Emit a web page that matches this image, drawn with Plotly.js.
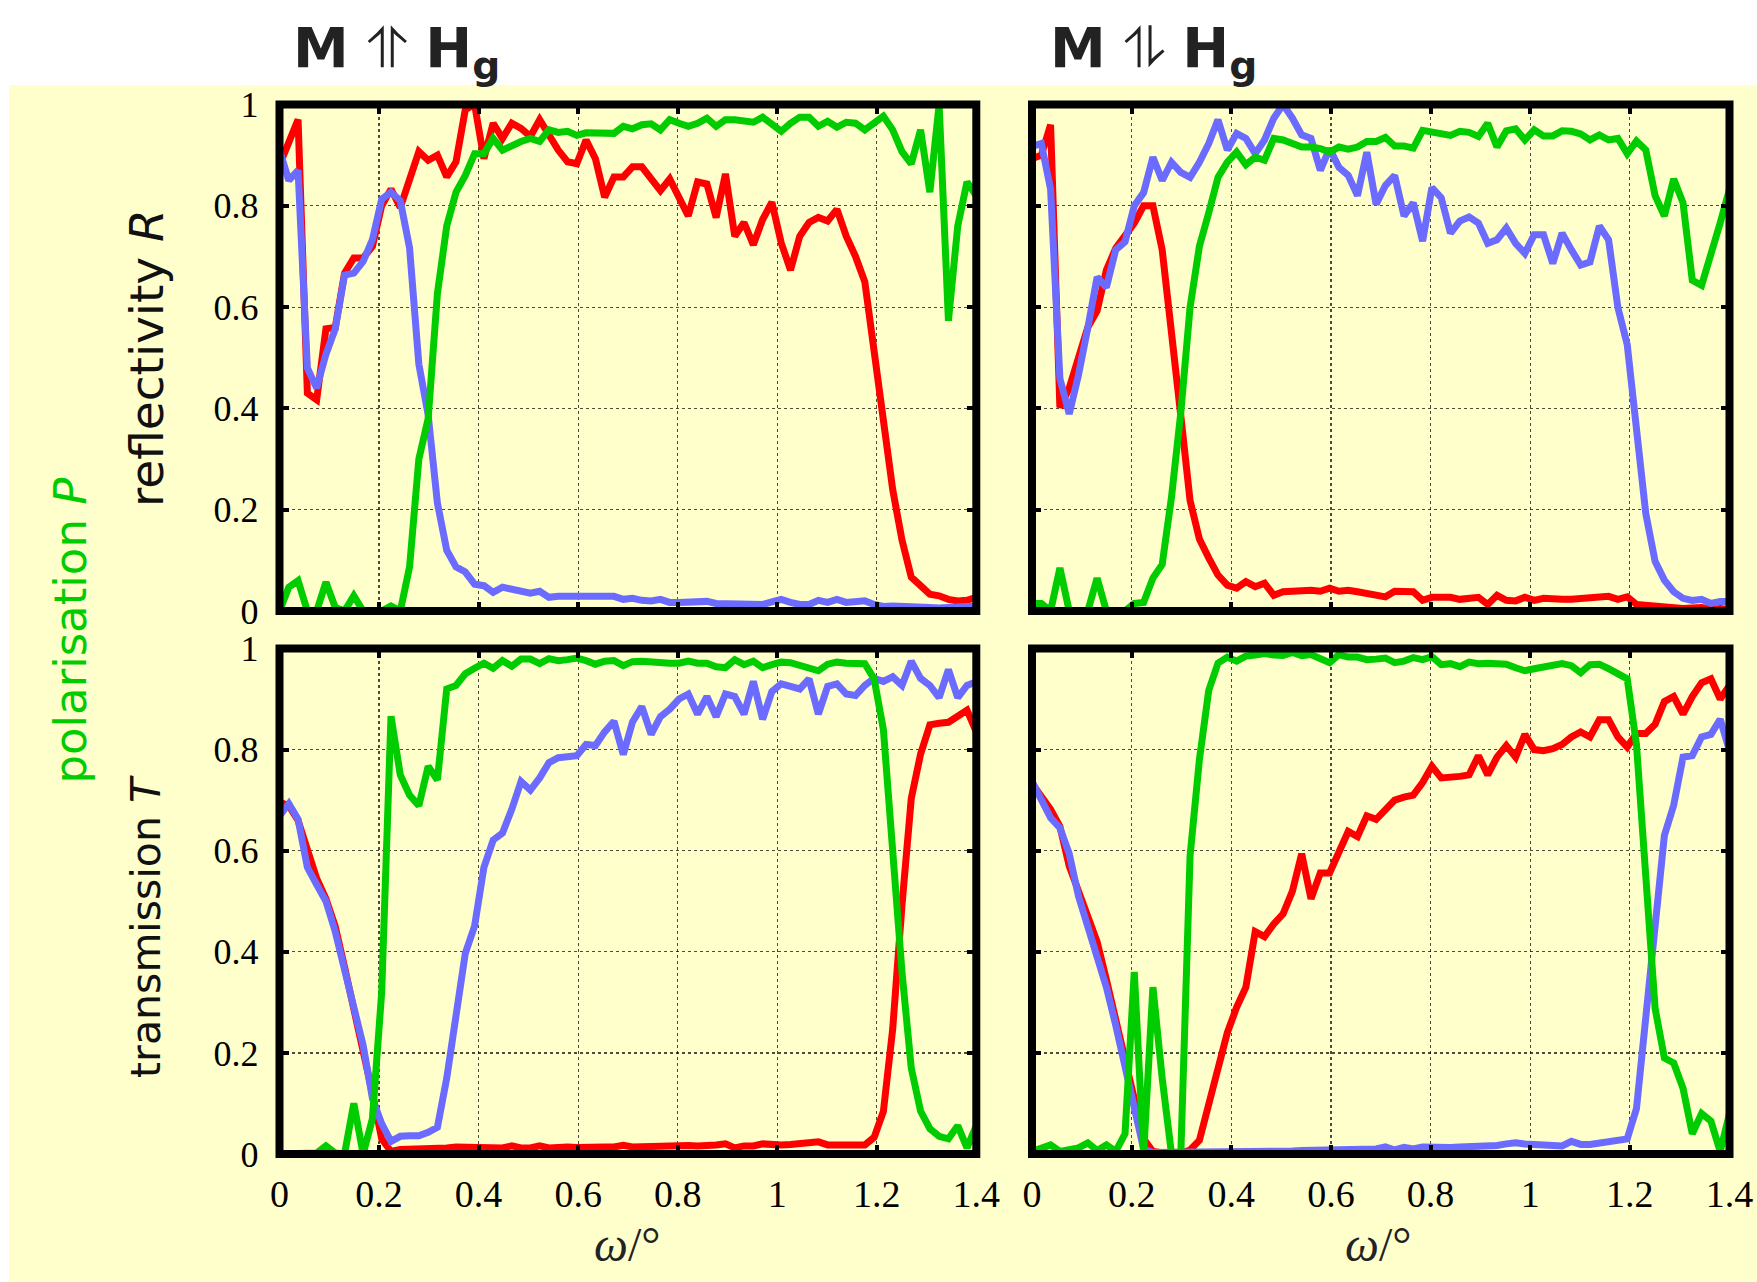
<!DOCTYPE html>
<html><head><meta charset="utf-8">
<script src="https://cdn.plot.ly/plotly-3.0.1.min.js"></script>
<style>html,body{margin:0;padding:0;background:#fff}</style>
</head><body><div id="chart" style="width:1757px;height:1282px"></div>
<script>
// incidence angle omega (degrees)
const omega = [0,0.0187,0.0373,0.056,0.0747,0.0933,0.112,0.1307,0.1493,0.168,0.1867,0.2053,0.224,0.2427,0.2613,0.28,0.2987,0.3173,0.336,0.3547,0.3733,0.392,0.4107,0.4293,0.448,0.4667,0.4853,0.504,0.5227,0.5413,0.56,0.5787,0.5973,0.616,0.6347,0.6533,0.672,0.6907,0.7093,0.728,0.7467,0.7653,0.784,0.8027,0.8213,0.84,0.8587,0.8773,0.896,0.9147,0.9333,0.952,0.9707,0.9893,1.008,1.0267,1.0453,1.064,1.0827,1.1013,1.12,1.1387,1.1573,1.176,1.1947,1.2133,1.232,1.2507,1.2693,1.288,1.3067,1.3253,1.344,1.3627,1.3813,1.4];

// M parallel Hg : reflectivity
const reflParRed = [0.88,0.93,0.97,0.43,0.417,0.557,0.56,0.667,0.697,0.697,0.72,0.80,0.833,0.797,0.857,0.907,0.89,0.90,0.857,0.887,0.99,1.0,0.893,0.963,0.933,0.963,0.953,0.937,0.97,0.94,0.91,0.887,0.883,0.93,0.893,0.817,0.857,0.857,0.877,0.877,0.853,0.83,0.853,0.817,0.78,0.847,0.843,0.777,0.863,0.74,0.767,0.723,0.773,0.807,0.727,0.673,0.74,0.767,0.777,0.77,0.793,0.74,0.70,0.65,0.507,0.373,0.24,0.14,0.067,0.05,0.033,0.03,0.023,0.02,0.021,0.027];
const reflParBlue = [0.91,0.85,0.87,0.48,0.44,0.507,0.557,0.663,0.667,0.69,0.733,0.813,0.827,0.81,0.717,0.487,0.387,0.213,0.12,0.087,0.077,0.053,0.05,0.037,0.047,0.043,0.04,0.035,0.039,0.027,0.029,0.029,0.031,0.031,0.031,0.03,0.029,0.023,0.025,0.021,0.02,0.023,0.017,0.017,0.018,0.016,0.019,0.015,0.015,0.015,0.016,0.016,0.013,0.018,0.023,0.017,0.013,0.013,0.021,0.017,0.023,0.017,0.017,0.02,0.013,0.009,0.01,0.01,0.007,0.007,0.007,0.006,0.008,0.009,0.009,0.009];
const reflParPol = [0,0.047,0.06,0,0,0.057,0.007,0,0.03,0,0,0,0.01,0,0.087,0.30,0.38,0.627,0.76,0.827,0.86,0.903,0.903,0.933,0.91,0.92,0.927,0.933,0.927,0.95,0.945,0.947,0.939,0.944,0.943,0.941,0.943,0.957,0.952,0.96,0.962,0.95,0.97,0.963,0.957,0.963,0.973,0.957,0.97,0.97,0.967,0.965,0.975,0.963,0.947,0.963,0.975,0.975,0.957,0.967,0.955,0.965,0.963,0.95,0.965,0.977,0.95,0.907,0.883,0.95,0.827,1.0,0.573,0.76,0.847,0.82];

// M antiparallel Hg : reflectivity
const reflAntiRed = [0.893,0.90,0.96,0.402,0.44,0.506,0.56,0.593,0.673,0.716,0.74,0.766,0.80,0.80,0.713,0.56,0.385,0.218,0.142,0.105,0.071,0.051,0.045,0.058,0.048,0.055,0.031,0.038,0.039,0.041,0.041,0.039,0.045,0.039,0.041,0.038,0.035,0.031,0.028,0.039,0.037,0.038,0.021,0.027,0.027,0.027,0.023,0.025,0.027,0.013,0.031,0.021,0.02,0.027,0.021,0.025,0.023,0.023,0.023,0.025,0.028,0.027,0.029,0.023,0.028,0.013,0.011,0.011,0.009,0.005,0.005,0.006,0.007,0.003,0.005,0.003];
const reflAntiBlue = [0.917,0.923,0.833,0.459,0.389,0.466,0.559,0.659,0.639,0.713,0.729,0.80,0.826,0.896,0.85,0.886,0.866,0.856,0.886,0.923,0.97,0.91,0.943,0.933,0.903,0.93,0.973,1.0,0.973,0.94,0.933,0.87,0.913,0.876,0.86,0.82,0.906,0.803,0.84,0.86,0.78,0.806,0.73,0.836,0.816,0.746,0.77,0.778,0.766,0.726,0.733,0.756,0.726,0.706,0.743,0.743,0.686,0.746,0.713,0.683,0.689,0.76,0.733,0.599,0.526,0.359,0.192,0.098,0.061,0.038,0.025,0.021,0.023,0.015,0.019,0.019];
const reflAntiPol = [0.015,0.015,0,0.085,0,0,0,0.065,0,0,0,0.015,0.017,0.065,0.092,0.225,0.392,0.60,0.72,0.786,0.856,0.886,0.906,0.881,0.896,0.89,0.933,0.93,0.923,0.916,0.916,0.913,0.906,0.916,0.912,0.916,0.927,0.927,0.935,0.918,0.918,0.914,0.949,0.945,0.943,0.939,0.947,0.945,0.937,0.963,0.916,0.948,0.952,0.93,0.95,0.938,0.938,0.948,0.947,0.942,0.93,0.94,0.93,0.933,0.903,0.928,0.91,0.82,0.78,0.853,0.806,0.653,0.643,0.70,0.766,0.833];

// M parallel Hg : transmission
const transParRed = [0.696,0.689,0.66,0.6,0.545,0.505,0.45,0.37,0.29,0.2,0.12,0.03,0.005,0.009,0.009,0.009,0.01,0.01,0.012,0.014,0.014,0.013,0.012,0.014,0.012,0.016,0.012,0.012,0.016,0.012,0.014,0.014,0.013,0.014,0.016,0.014,0.014,0.017,0.014,0.015,0.016,0.015,0.016,0.016,0.017,0.016,0.016,0.018,0.02,0.012,0.016,0.016,0.02,0.018,0.018,0.019,0.021,0.022,0.024,0.018,0.017,0.018,0.018,0.018,0.033,0.084,0.247,0.492,0.703,0.791,0.849,0.852,0.854,0.866,0.878,0.835];
const transParBlue = [0.669,0.693,0.662,0.567,0.533,0.5,0.44,0.36,0.291,0.215,0.11,0.06,0.025,0.035,0.036,0.036,0.043,0.053,0.15,0.28,0.397,0.451,0.567,0.621,0.635,0.682,0.737,0.72,0.744,0.774,0.784,0.786,0.788,0.81,0.808,0.835,0.856,0.79,0.855,0.885,0.83,0.865,0.88,0.9,0.91,0.87,0.905,0.865,0.91,0.905,0.87,0.935,0.86,0.915,0.93,0.925,0.92,0.94,0.87,0.925,0.93,0.91,0.907,0.927,0.941,0.935,0.944,0.927,0.975,0.941,0.927,0.903,0.958,0.903,0.927,0.934];
const transParPol = [0,0,0,0,0.002,0.016,0.002,0,0.1,0,0.07,0.32,0.866,0.75,0.71,0.689,0.767,0.74,0.92,0.927,0.95,0.961,0.971,0.961,0.976,0.965,0.979,0.979,0.97,0.98,0.976,0.978,0.981,0.976,0.969,0.975,0.976,0.966,0.974,0.975,0.973,0.971,0.971,0.971,0.975,0.971,0.971,0.964,0.962,0.978,0.968,0.975,0.962,0.968,0.973,0.972,0.967,0.96,0.956,0.969,0.973,0.971,0.97,0.97,0.94,0.84,0.6,0.36,0.17,0.085,0.05,0.035,0.03,0.056,0.012,0.056];

// M antiparallel Hg : transmission
const transAntiRed = [0.733,0.71,0.682,0.648,0.57,0.52,0.47,0.42,0.345,0.265,0.19,0.115,0.03,0.005,0.002,0,0.002,0.008,0.027,0.1,0.17,0.24,0.29,0.33,0.44,0.43,0.455,0.475,0.52,0.594,0.505,0.556,0.556,0.597,0.638,0.628,0.669,0.662,0.68,0.7,0.706,0.71,0.735,0.767,0.744,0.744,0.747,0.75,0.788,0.75,0.785,0.808,0.785,0.83,0.80,0.798,0.802,0.81,0.825,0.835,0.825,0.859,0.859,0.825,0.805,0.832,0.832,0.85,0.895,0.905,0.87,0.905,0.932,0.94,0.9,0.927];
const transAntiBlue = [0.737,0.70,0.665,0.645,0.594,0.51,0.45,0.39,0.33,0.255,0.175,0.09,0.01,0.003,0.003,0.003,0.004,0.004,0.004,0.005,0.005,0.005,0.005,0.006,0.005,0.006,0.006,0.006,0.006,0.007,0.007,0.009,0.007,0.009,0.009,0.01,0.01,0.01,0.014,0.008,0.013,0.01,0.014,0.013,0.014,0.013,0.014,0.014,0.015,0.016,0.017,0.02,0.022,0.02,0.019,0.018,0.017,0.016,0.025,0.019,0.019,0.022,0.025,0.027,0.03,0.09,0.26,0.46,0.63,0.69,0.785,0.788,0.825,0.83,0.86,0.798];
const transAntiPol = [0.005,0.012,0.018,0.005,0.008,0.012,0.022,0.007,0.018,0.005,0.04,0.36,0,0.33,0.15,0,0,0.59,0.78,0.917,0.971,0.983,0.975,0.985,0.987,0.99,0.987,0.986,0.992,0.986,0.988,0.98,0.972,0.988,0.983,0.983,0.978,0.979,0.981,0.972,0.975,0.982,0.978,0.984,0.968,0.97,0.964,0.973,0.97,0.971,0.969,0.969,0.962,0.956,0.96,0.964,0.967,0.97,0.966,0.952,0.968,0.969,0.96,0.95,0.94,0.81,0.56,0.288,0.19,0.18,0.13,0.04,0.08,0.065,0.005,0.08];

const xTickVals = [0,0.2,0.4,0.6,0.8,1,1.2,1.4];
const xTickText = ['0','0.2','0.4','0.6','0.8','1','1.2','1.4'];
const yTickVals = [0,0.2,0.4,0.6,0.8,1];
const yTickText = ['0','0.2','0.4','0.6','0.8','1'];

const RED = '#FF0000', BLUE = '#6B6BFF', GREEN = '#00CC00';
const W = 1757, H = 1282;

const panels = [
  {k:'',  red:reflParRed,   blue:reflParBlue,   green:reflParPol},
  {k:'2', red:reflAntiRed,  blue:reflAntiBlue,  green:reflAntiPol},
  {k:'3', red:transParRed,  blue:transParBlue,  green:transParPol},
  {k:'4', red:transAntiRed, blue:transAntiBlue, green:transAntiPol}
];

const traces = [];
panels.forEach(p => {
  [[p.red,RED],[p.blue,BLUE],[p.green,GREEN]].forEach(([ys,c]) => {
    traces.push({x:omega, y:ys, type:'scatter', mode:'lines',
      line:{color:c, width:7}, xaxis:'x'+p.k, yaxis:'y'+p.k,
      hoverinfo:'skip', showlegend:false});
  });
});

const colL = [279.5/W, 976.3/W], colR = [1032/W, 1729.5/W];
const rowT = [(H-611)/H, (H-104.5)/H], rowB = [(H-1154)/H, (H-648.5)/H];

const common = {ticks:'inside', ticklen:9, tickwidth:4, tickcolor:'#000',
  mirror:'ticks', showline:false, showgrid:true, gridcolor:'rgba(0,0,0,0.7)',
  gridwidth:1.2, griddash:'dot', zeroline:false, fixedrange:true};

function xa(dom, anchor, labels){
  return Object.assign({}, common, {domain:dom, anchor:anchor, range:[0,1.4],
    tickmode:'array', tickvals:xTickVals, ticktext:xTickText, showticklabels:labels,
    tickfont:{family:'Liberation Serif', size:38, color:'#000'}, ticklabelstandoff:14});
}
function ya(dom, anchor, labels){
  return Object.assign({}, common, {domain:dom, anchor:anchor, range:[0,1],
    tickmode:'array', tickvals:yTickVals, ticktext:yTickText, showticklabels:labels,
    tickfont:{family:'Liberation Serif', size:36, color:'#000'}, ticklabelstandoff:20});
}

const shapes = [{type:'rect', xref:'paper', yref:'paper', x0:9/W, x1:1, y0:0, y1:1-85/H,
  fillcolor:'#FFFFCC', line:{width:0}, layer:'below'}];
panels.forEach(p => {
  shapes.push({type:'rect', xref:'x'+p.k+' domain', yref:'y'+p.k+' domain',
    x0:0, x1:1, y0:0, y1:1, line:{color:'#000', width:8},
    fillcolor:'rgba(0,0,0,0)', layer:'above'});
});

const sansFont = 'DejaVu Sans';
const annotations = [
  {text:'<b>M</b> \u2963 <b>H<sub>g</sub></b>', x:396/W, y:1-52/H, font:{family:sansFont, size:56, color:'#222'}},
  {text:'<b>M</b> \u296E <b>H<sub>g</sub></b>', x:1153/W, y:1-52/H, font:{family:sansFont, size:56, color:'#222'}},
  {text:'reflectivity <i>R</i>', x:146/W, y:1-358/H, textangle:-90, font:{family:sansFont, size:47, color:'#111'}},
  {text:'transmission <i>T</i>', x:146/W, y:1-927/H, textangle:-90, font:{family:sansFont, size:41, color:'#111'}},
  {text:'polarisation <i>P</i>', x:69.5/W, y:1-630/H, textangle:-90, font:{family:sansFont, size:45, color:GREEN}},
  {text:'<i>\u03C9</i>/\u00B0', x:627/W, y:1-1244/H, font:{family:'Liberation Serif', size:48, color:'#222'}},
  {text:'<i>\u03C9</i>/\u00B0', x:1378/W, y:1-1244/H, font:{family:'Liberation Serif', size:48, color:'#222'}}
].map(a => Object.assign({xref:'paper', yref:'paper', showarrow:false, xanchor:'center', yanchor:'middle'}, a));

const layout = {
  width:W, height:H, margin:{l:0,r:0,t:0,b:0,pad:0},
  paper_bgcolor:'#FFFFFF', plot_bgcolor:'rgba(0,0,0,0)', showlegend:false,
  xaxis: xa(colL,'y',false),  yaxis: ya(rowT,'x',true),
  xaxis2:xa(colR,'y2',false), yaxis2:ya(rowT,'x2',false),
  xaxis3:xa(colL,'y3',true),  yaxis3:ya(rowB,'x3',true),
  xaxis4:xa(colR,'y4',true),  yaxis4:ya(rowB,'x4',false),
  shapes:shapes, annotations:annotations
};

Plotly.newPlot('chart', traces, layout, {displayModeBar:false, staticPlot:true});
</script></body></html>
